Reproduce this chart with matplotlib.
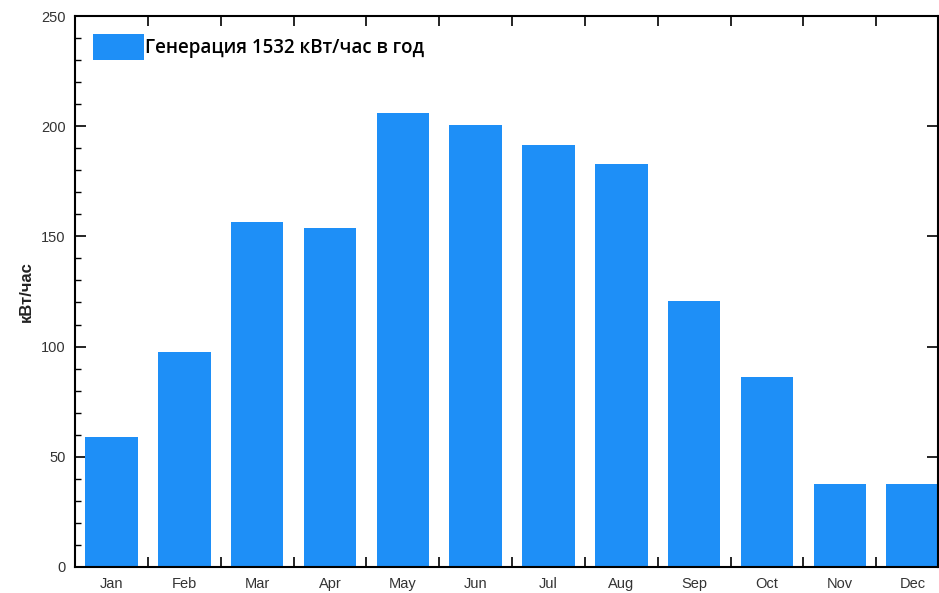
import numpy as np
from matplotlib import pyplot as plt
from matplotlib.ticker import MultipleLocator, FixedLocator, NullFormatter

# данные
months = ['Jan', 'Feb', 'Mar', 'Apr', 'May', 'Jun', 'Jul', 'Aug', 'Sep', 'Oct', 'Nov', 'Dec']
gen = [59, 97.5, 156.5, 154, 206, 200.5, 191.5, 183, 120.5, 86, 37.5, 37.5]
label = 'Генерация 1532 кВт/час в год'

plt.rcParams['font.family'] = ['Liberation Sans', 'DejaVu Sans']

fig = plt.figure(figsize=(9.39, 5.93), dpi=100)
ax = fig.add_axes([0.080, 0.044, 0.919, 0.929])

x = np.arange(len(months))
ax.bar(x, gen, width=0.72, color='#1e8ff7', label=label, zorder=2)

ax.set_xlim(-0.5, 11.35)
ax.set_ylim(0, 250)

# ось Y
ax.yaxis.set_major_locator(MultipleLocator(50))
ax.yaxis.set_minor_locator(MultipleLocator(10))
ax.tick_params(axis='y', which='major', direction='in', length=8, width=1.2,
               labelsize=10.5, labelcolor='#333333', right=True, pad=7)
ax.tick_params(axis='y', which='minor', direction='in', length=4, width=1, right=False)

# ось X: риски на границах, подписи по центру
ax.xaxis.set_major_locator(FixedLocator(x[:-1] + 0.5))
ax.xaxis.set_major_formatter(NullFormatter())
ax.xaxis.set_minor_locator(FixedLocator(x))
ax.set_xticklabels(months, minor=True)
ax.tick_params(axis='x', which='major', direction='in', length=7, width=1.2, top=True)
ax.tick_params(axis='x', which='minor', length=0, labelsize=10.5, labelcolor='#333333', pad=7)

for s in ax.spines.values():
    s.set_linewidth(1.5)

ax.set_ylabel('кВт/час', fontsize=12, fontweight='bold', color='#222222', labelpad=5)

ax.legend(loc='upper left', frameon=False, handlelength=2.7, handleheight=1.8,
          handletextpad=0.1, borderaxespad=0.55,
          prop={'family': ['Open Sans', 'DejaVu Sans'], 'size': 13.5, 'weight': 600})

plt.savefig('out.png', dpi=100)
